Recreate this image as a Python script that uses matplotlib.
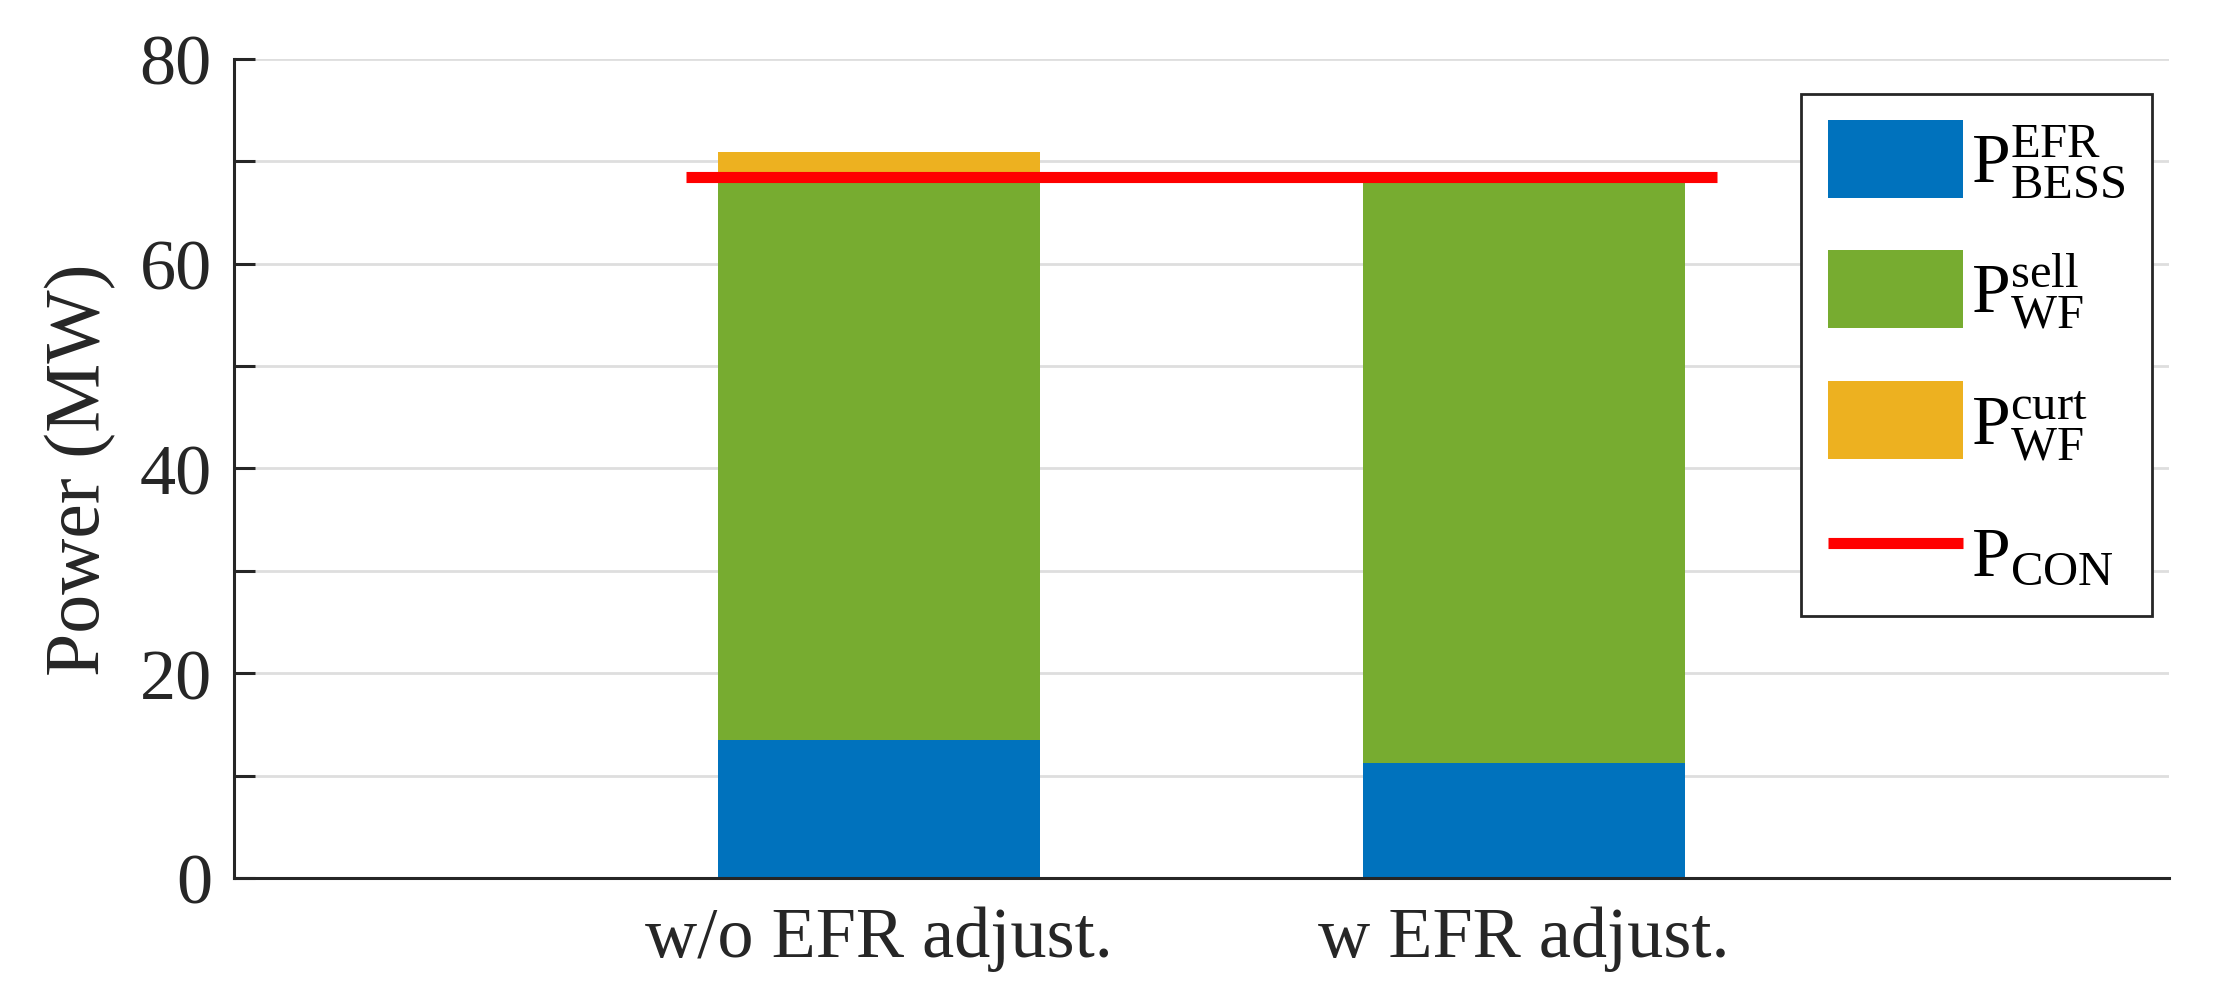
import numpy as np
import matplotlib
matplotlib.use('Agg')
from matplotlib import pyplot as plt

# values
cases = ['w/o EFR adjust.', 'w EFR adjust.']
p_bess = [13.5, 11.2]
p_sell = [54.9, 57.2]
p_curt = [2.5, 0.0]
p_con = 68.4

plt.rcParams['font.family'] = ['Liberation Serif', 'DejaVu Serif']
plt.rcParams['mathtext.fontset'] = 'custom'
plt.rcParams['mathtext.rm'] = 'Liberation Serif'
plt.rcParams['mathtext.it'] = 'Liberation Serif:italic'
plt.rcParams['mathtext.bf'] = 'Liberation Serif:bold'

c_blue = '#0072BD'
c_green = '#77AC30'
c_orange = '#EDB120'
c_axis = '#262626'

fig = plt.figure(figsize=(22.3, 9.95), dpi=100)
ax = fig.add_axes([0.105, 0.1166, 0.8676, 0.8234])

x = np.arange(1, len(cases) + 1)
bess = np.array(p_bess)
sell = np.array(p_sell)
curt = np.array(p_curt)

h1 = ax.bar(x, bess, 0.5, color=c_blue, zorder=2)
h2 = ax.bar(x, sell, 0.5, bottom=bess, color=c_green, zorder=2)
h3 = ax.bar(x, curt, 0.5, bottom=bess + sell, color=c_orange, zorder=2)
h4 = ax.hlines(p_con, 0.7, 2.3, color='#FF0000', lw=8, zorder=3)

ax.set_xlim(0, 3)
ax.set_ylim(0, 80)
ax.set_xticks(x)
ax.set_xticklabels(cases)
ax.set_yticks(np.arange(0, 81, 20))
ax.set_yticks(np.arange(10, 80, 20), minor=True)
ax.grid(True, axis='y', which='both', color='#dedede', lw=2, zorder=0)
ax.set_axisbelow(True)

for s in ['top', 'right']:
    ax.spines[s].set_visible(False)
for s in ['left', 'bottom']:
    ax.spines[s].set_color(c_axis)
    ax.spines[s].set_linewidth(2.2)

ax.tick_params(axis='both', which='both', direction='in', length=15, width=2.2,
               color=c_axis, labelcolor=c_axis, labelsize=52)
ax.tick_params(axis='y', which='both', pad=16)
ax.tick_params(axis='x', which='both', pad=20)
ax.set_ylabel('Power (MW)', fontsize=56, color=c_axis, labelpad=17)

labels = [r'$\mathrm{P}^{\mathrm{EFR}}_{\mathrm{BESS}}$',
          r'$\mathrm{P}^{\mathrm{sell}}_{\mathrm{WF}}$',
          r'$\mathrm{P}^{\mathrm{curt}}_{\mathrm{WF}}$',
          r'$\mathrm{P}_{\mathrm{CON}}$']
leg = ax.legend([h1, h2, h3, h4], labels, loc='upper left',
                bbox_to_anchor=(0.81, 0.957), fontsize=50,
                fancybox=False, framealpha=1, edgecolor=c_axis,
                handlelength=1.95, handleheight=1.35, handletextpad=0.12,
                labelspacing=0.72, borderpad=0.38, borderaxespad=0)
leg.get_frame().set_linewidth(2)

fig.savefig('out.png', dpi=100)
